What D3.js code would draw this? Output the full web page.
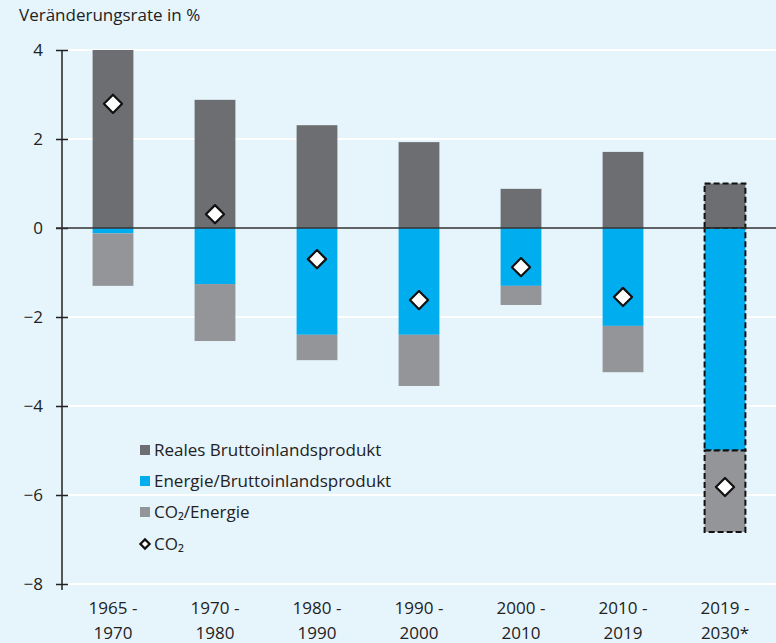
<!DOCTYPE html>
<html><head><meta charset="utf-8">
<script src="https://cdn.jsdelivr.net/npm/d3@7"></script>
<style>
html,body{margin:0;padding:0;background:#e6f4fc;}
svg{display:block;}
text{font-family:"Open Sans","DejaVu Sans",sans-serif;fill:#222;}
</style></head><body>
<svg id="c" width="776" height="643"></svg>
<script>
const categories = [["1965 -","1970"],["1970 -","1980"],["1980 -","1990"],["1990 -","2000"],["2000 -","2010"],["2010 -","2019"],["2019 -","2030*"]];
const gdp = [4.0, 2.88, 2.31, 1.93, 0.88, 1.71, 1.0];
const energyGdp = [-0.12, -1.26, -2.4, -2.4, -1.3, -2.2, -5.0];
const co2Energy = [-1.18, -1.28, -0.57, -1.15, -0.43, -1.04, -1.83];
const co2 = [2.79, 0.31, -0.70, -1.62, -0.88, -1.55, -5.82];
const yTicks = [4, 2, 0, -2, -4, -6, -8];
const projected = [false,false,false,false,false,false,true];
const legendLabels = ["Reales Bruttoinlandsprodukt","Energie/Bruttoinlandsprodukt","CO₂/Energie","CO₂"];
const colors = {gdp:"#6d6e71", energy:"#00aeef", co2e:"#939598"};

const svg = d3.select("#c");
const x = d3.scaleBand().domain(d3.range(categories.length)).range([62,776]).paddingInner(0.6).paddingOuter(0.3);
const y = d3.scaleLinear().domain([-8,4]).range([584,50]);

// gridlines
svg.append("g").selectAll("line").data(yTicks.filter(d=>d!==0)).join("line")
  .attr("x1",68).attr("x2",776).attr("y1",d=>y(d)).attr("y2",d=>y(d))
  .attr("stroke","#fff").attr("stroke-width",2);

// y axis
const ax = svg.append("g").attr("transform","translate(62,0)")
  .call(d3.axisLeft(y).tickValues(yTicks).tickSize(6).tickPadding(13).tickFormat(d3.format("d")));
ax.select(".domain").remove();
ax.selectAll(".tick line").attr("x1",-6).attr("x2",6).attr("stroke","#222").attr("stroke-width",1.5);
ax.selectAll(".tick text").attr("font-size",17).attr("fill","#222").style("font-family","'Open Sans',sans-serif");
svg.append("line").attr("x1",62).attr("x2",62).attr("y1",y(4)).attr("y2",y(-8)+6).attr("stroke","#222").attr("stroke-width",1.5);

// bars
const g = svg.append("g");
categories.forEach((c,i)=>{
  const segs = [
    {y0:0,y1:gdp[i],col:colors.gdp},
    {y0:0,y1:energyGdp[i],col:colors.energy},
    {y0:energyGdp[i],y1:energyGdp[i]+co2Energy[i],col:colors.co2e}
  ];
  segs.forEach(s=>{
    const r = g.append("rect").attr("x",x(i)).attr("width",x.bandwidth())
      .attr("y",y(Math.max(s.y0,s.y1))).attr("height",Math.abs(y(s.y0)-y(s.y1)))
      .attr("fill",s.col);
    if(projected[i]) r.attr("stroke","#111").attr("stroke-width",2).attr("stroke-dasharray","6,3");
  });
});

// zero line
svg.append("line").attr("x1",56).attr("x2",776).attr("y1",y(0)).attr("y2",y(0)).attr("stroke","#333").attr("stroke-width",1.5);

// diamonds
const diamond = d3.symbol().type(d3.symbolDiamond2).size(210);
svg.append("g").selectAll("path").data(co2).join("path")
  .attr("d",diamond)
  .attr("transform",(d,i)=>`translate(${x(i)+x.bandwidth()/2},${y(d)})`)
  .attr("fill","#fff").attr("stroke","#111").attr("stroke-width",2.2).attr("stroke-linejoin","round");

// x labels
categories.forEach((c,i)=>{
  const t = svg.append("text").attr("x",x(i)+x.bandwidth()/2).attr("text-anchor","middle").attr("font-size",17);
  t.append("tspan").attr("x",x(i)+x.bandwidth()/2).attr("y",614).text(c[0]);
  t.append("tspan").attr("x",x(i)+x.bandwidth()/2).attr("y",639).text(c[1]);
});

// title
svg.append("text").attr("x",19).attr("y",21).attr("font-size",17).text("Veränderungsrate in %");

// legend
const ly = [450,481,512,544];
const lcols = [colors.gdp, colors.energy, colors.co2e];
lcols.forEach((col,i)=>{
  svg.append("rect").attr("x",140).attr("y",ly[i]-5).attr("width",10).attr("height",10).attr("fill",col);
});
svg.append("path").attr("d",d3.symbol().type(d3.symbolDiamond2).size(55))
  .attr("transform",`translate(145,${ly[3]})`).attr("fill","#fff").attr("stroke","#111").attr("stroke-width",2.2);
legendLabels.forEach((l,i)=>{
  svg.append("text").attr("x",154).attr("y",ly[i]+6).attr("font-size",17).text(l);
});
</script>
</body></html>
